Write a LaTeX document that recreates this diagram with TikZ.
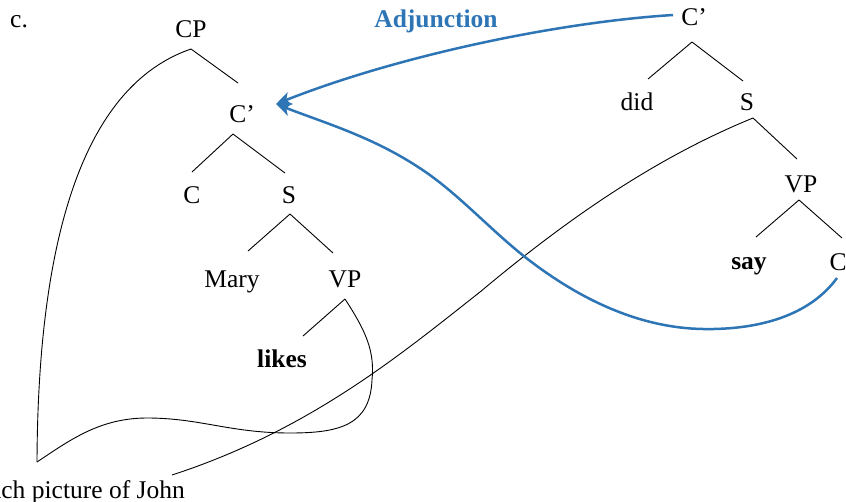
\documentclass[tikz,border=0pt]{standalone}
\usepackage{fontspec}
\setmainfont{Liberation Serif}
\usetikzlibrary{calc,arrows.meta}
\definecolor{adjblue}{RGB}{46,117,182}
\begin{document}
\begin{tikzpicture}[x=1pt,y=1pt,
  lbl/.style={inner sep=0pt, anchor=base, font=\fontsize{25.5}{30}\selectfont},
  bl/.style={inner sep=0pt, anchor=base, font=\fontsize{25.5}{30}\selectfont\bfseries},
  branch/.style={draw=black, line width=0.9pt},
  move/.style={draw=adjblue, line width=2.5pt},
  tip/.style={-{Stealth[length=15pt,width=13pt,inset=4pt]}}]
\useasboundingbox (0,0) rectangle (846,-501);

% labels
\node[lbl, anchor=base west] (c) at (10,-27) {c.};
\node[bl, text=adjblue] (adj) at (436,-27) {Adjunction};

% left tree
\node[lbl] (CP) at (191,-37) {CP};
\node[lbl] (Cbar) at (242,-122) {C’};
\node[lbl] (Cl) at (192,-203) {C};
\node[lbl] (Sl) at (289,-203) {S};
\node[lbl] (Mary) at (232,-287) {Mary};
\node[lbl] (VPl) at (345,-287) {VP};
\node[bl] (likes) at (282,-367) {likes};
\node[lbl, anchor=base east] (np) at (185,-498) {each picture of John};

% right tree
\node[lbl] (Cbr) at (694,-25) {C’};
\node[lbl] (did) at (637,-110) {did};
\node[lbl] (Sr) at (747,-110) {S};
\node[lbl] (VPr) at (801,-192) {VP};
\node[bl] (say) at (749,-269) {say};
\node[lbl] (Cr) at (838,-270) {C};

% attachment points of the moved phrase
\coordinate (npL) at ($(np.base east)+(-148,36)$);
\coordinate (npR) at ($(np.base east)+(-13,23)$);

% left tree branches
\draw[branch] ($(CP.base)+(0,-12)$) -- ($(Cbar.base)+(-4,39)$);
\draw[branch] ($(Cbar.base)+(-9,-12)$) -- ($(Cl.base)+(0,31)$);
\draw[branch] ($(Cbar.base)+(-9,-12)$) -- ($(Sl.base)+(-4,30)$);
\draw[branch] ($(Sl.base)+(1,-11)$) -- ($(Mary.base)+(16,36)$);
\draw[branch] ($(Sl.base)+(1,-11)$) -- ($(VPl.base)+(-12,34)$);
\draw[branch] ($(VPl.base)+(0,-12)$) -- ($(likes.base)+(21,31)$);

% right tree branches
\draw[branch] ($(Cbr.base)+(-2,-17)$) -- ($(did.base)+(11,31)$);
\draw[branch] ($(Cbr.base)+(-2,-17)$) -- ($(Sr.base)+(-4,29)$);
\draw[branch] ($(Sr.base)+(6,-8)$) -- ($(VPr.base)+(-4,33)$);
\draw[branch] ($(VPr.base)+(-2,-8)$) -- ($(say.base)+(7,32)$);
\draw[branch] ($(VPr.base)+(-2,-8)$) -- ($(Cr.base)+(4,32)$);

% long curved branches to the moved phrase
\draw[branch] ($(CP.base)+(0,-12)$) .. controls (95,-82) and (38,-210) .. (npL);
\draw[branch] ($(VPl.base)+(0,-12)$) .. controls (365,-330) and (375,-350) .. (372,-380)
  .. controls (370,-425) and (340,-433) .. (290,-433)
  .. controls (230,-433) and (200,-418) .. (147,-418)
  .. controls (100,-418) and (70,-440) .. (npL);
\draw[branch] ($(Sr.base)+(6,-8)$) .. controls (650,-160) and (560,-225) .. (480,-292)
  .. controls (400,-355) and (310,-430) .. (npR);

% adjunction arrows
\coordinate (tipP) at ($(Cbar.base)+(34,18)$);
\draw[move, tip] ($(Cbr.base)+(-21,10)$) .. controls (560,-22) and (400,-55) .. (tipP);
\draw[move, tip] ($(Cr.base)+(-1,-8)$) .. controls (810,-315) and (760,-330) .. (703,-329)
  .. controls (640,-328) and (580,-300) .. (525,-257)
  .. controls (492,-231) and (460,-196) .. (427,-173)
  .. controls (377,-138) and (326,-123.5) .. (tipP);
\end{tikzpicture}
\end{document}
